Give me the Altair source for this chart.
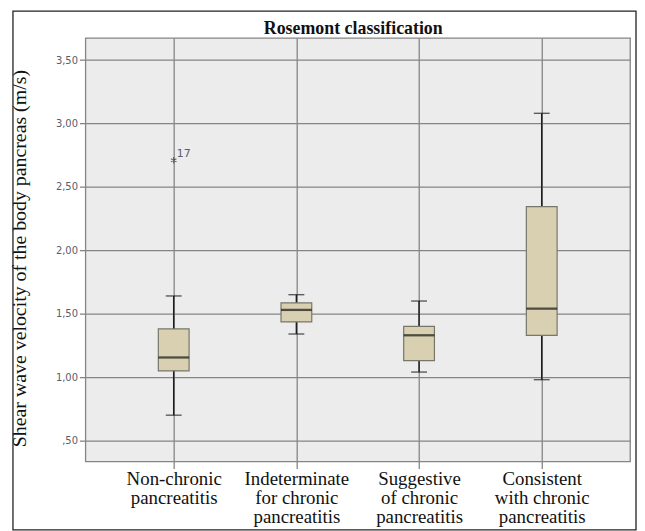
import altair as alt
import pandas as pd

chart_title = "Rosemont classification"
categories = [
    "Non-chronic|pancreatitis",
    "Indeterminate|for chronic|pancreatitis",
    "Suggestive|of chronic|pancreatitis",
    "Consistent|with chronic|pancreatitis",
]
whisker_low = [0.70, 1.34, 1.04, 0.98]
q1 = [1.05, 1.435, 1.13, 1.33]
median = [1.155, 1.53, 1.33, 1.54]
q3 = [1.38, 1.585, 1.40, 2.345]
whisker_high = [1.64, 1.65, 1.60, 3.08]

outlier_cat = ["Non-chronic|pancreatitis"]
outlier_val = [2.71]
outlier_label = ["17"]

y_ticks = [0.5, 1.0, 1.5, 2.0, 2.5, 3.0, 3.5]

df = pd.DataFrame({
    "cat": categories,
    "lo": whisker_low,
    "q1": q1,
    "med": median,
    "q3": q3,
    "hi": whisker_high,
})
out = pd.DataFrame({"cat": outlier_cat, "v": outlier_val, "lab": outlier_label})

GRID = "#858585"
xscale = alt.Scale(type="point", padding=0.72)
yscale = alt.Scale(domain=[0.335, 3.675], nice=False, zero=False)

x_enc = alt.X(
    "cat:N", sort=categories, scale=xscale, title=None,
    axis=alt.Axis(
        labelExpr="split(datum.label, '|')",
        labelFont="Liberation Serif", labelFontSize=19, labelColor="#111",
        labelLineHeight=19.5, labelAngle=0, labelPadding=1,
        tickSize=7, tickColor=GRID, tickWidth=1.3,
        grid=True, gridColor=GRID, gridWidth=1.3, gridOpacity=1,
        domain=False,
    ),
)
y_axis = alt.Axis(
    values=y_ticks,
    labelExpr="replace(replace(format(datum.value, '.2f'), '.', ','), '0,', ',')",
    labelFont="DejaVu Sans", labelFontSize=10, labelColor="#5b5b6b",
    labelPadding=2, tickSize=6, tickColor=GRID, tickWidth=1.3,
    grid=True, gridColor=GRID, gridWidth=1.3, gridOpacity=1, domain=False,
    title="Shear wave velocity of the body pancreas (m/s)",
    titleFont="Liberation Serif", titleFontSize=20, titleFontWeight="normal",
    titleColor="#111", titleX=-56, titleY=222,
)

base = alt.Chart(df)

frame = alt.Chart(alt.Data(values=[{"a": 1}])).mark_rect(
    fill="white", fillOpacity=0, stroke="#222", strokeWidth=1.3
).encode(
    x=alt.value(-73), x2=alt.value(555), y=alt.value(-27), y2=alt.value(496)
)
title_mark = alt.Chart(alt.Data(values=[{"t": chart_title}])).mark_text(
    font="Liberation Serif", fontSize=18, fontWeight="bold", color="#111",
    align="center", baseline="alphabetic"
).encode(x=alt.value(270), y=alt.value(-4), text="t:N")

whisk = base.mark_rule(color="#1e1e1e", strokeWidth=1.5).encode(
    x=x_enc, y=alt.Y("lo:Q", scale=yscale, axis=y_axis), y2="hi:Q"
)
box = base.mark_bar(size=31, color="#d8d0b0", stroke="#76766a", strokeWidth=1.2).encode(
    x=alt.X("cat:N", sort=categories), y="q1:Q", y2="q3:Q"
)
med = base.mark_tick(size=31, thickness=2.3, color="#151515").encode(
    x=alt.X("cat:N", sort=categories), y="med:Q"
)
cap_lo = base.mark_tick(size=16, thickness=1.4, color="#1e1e1e").encode(
    x=alt.X("cat:N", sort=categories), y="lo:Q"
)
cap_hi = base.mark_tick(size=16, thickness=1.4, color="#1e1e1e").encode(
    x=alt.X("cat:N", sort=categories), y="hi:Q"
)
star = alt.Chart(out).mark_point(
    shape="M0,-1L0,1M-0.87,-0.5L0.87,0.5M-0.87,0.5L0.87,-0.5",
    size=40, color="#333", strokeWidth=1.1, filled=False
).encode(x=alt.X("cat:N", sort=categories), y="v:Q")
star_lab = alt.Chart(out).mark_text(
    align="left", baseline="bottom", dx=3, dy=-1, font="DejaVu Sans",
    fontSize=11, color="#5b5b6b"
).encode(x=alt.X("cat:N", sort=categories), y="v:Q", text="lab:N")

chart = alt.layer(
    frame, title_mark, whisk, box, med, cap_lo, cap_hi, star, star_lab
).properties(
    width=549, height=427,
    padding={"left": 1, "top": 0, "right": 0, "bottom": 0},
).configure_view(
    fill="#ececec", stroke=GRID, strokeWidth=1.3
)

chart.save("out.html", embed_options={"renderer": "svg", "actions": False})
